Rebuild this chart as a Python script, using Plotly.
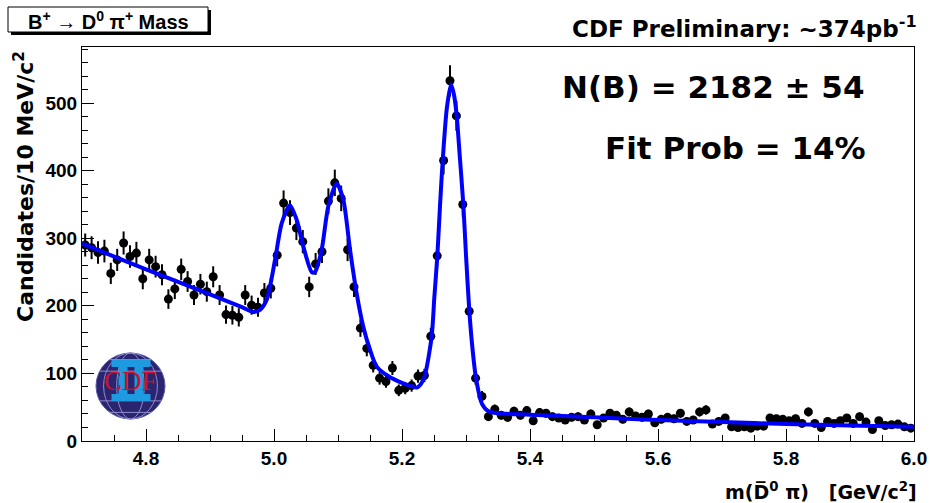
import numpy as np
import plotly.graph_objects as go

# ---------------- data ----------------
bin_low_edge = 4.70   # GeV/c^2
bin_width = 0.01      # 10 MeV bins

counts = [
    290, 286, 279, 281, 248, 268, 293, 273, 278, 240,   # 4.705-4.795
    268, 258, 246, 210, 225, 254, 236, 216, 232, 221,   # 4.805-4.895
    243, 216, 187, 186, 183, 216, 201, 198, 219, 226,   # 4.905-4.995
    275, 352, 338, 315, 295, 228, 262, 280, 355, 382,   # 5.005-5.095
    359, 283, 228, 167, 137, 112, 93, 88, 108, 75,      # 5.105-5.195
    78, 82, 96, 97, 155, 274, 415, 533, 481, 350,       # 5.205-5.295
    192, 93, 66, 36, 47, 38, 35, 44, 38, 45,            # 5.305-5.395
    30, 42, 41, 36, 34, 31, 35, 36, 31, 40,             # 5.405-5.495
    24, 34, 41, 38, 32, 43, 37, 35, 40, 27,             # 5.505-5.595
    32, 35, 33, 41, 29, 31, 43, 46, 25, 29,             # 5.605-5.695
    34, 21, 20, 21, 19, 22, 22, 34, 33, 32,             # 5.705-5.795
    30, 33, 26, 43, 26, 20, 29, 26, 30, 34,             # 5.805-5.895
    26, 36, 28, 17, 30, 23, 24, 25, 21, 19,             # 5.905-5.995
]

fit_mass = [4.70, 4.80, 4.90, 4.95, 4.967, 4.978, 4.9886, 5.0016, 5.012, 5.025,
            5.0355, 5.0458, 5.0589, 5.064, 5.0745, 5.0848, 5.098, 5.1083, 5.1188,
            5.1292, 5.1395, 5.15, 5.1605, 5.18, 5.20, 5.215, 5.223, 5.23, 5.236,
            5.2464, 5.2505, 5.2552, 5.2595, 5.2636, 5.270, 5.2766, 5.2813, 5.2855,
            5.290, 5.2958, 5.300, 5.3052, 5.310, 5.3156, 5.325, 5.335, 5.35, 5.40,
            5.50, 5.60, 5.70, 5.80, 5.90, 6.00]
fit_value = [292, 254, 217, 198, 191, 194, 209, 268, 322, 349,
             327, 288, 250, 250, 283, 347, 381, 357, 283,
             218, 169, 135, 110, 95, 86, 81, 79, 85, 98,
             155, 212, 274, 350, 415, 492, 528, 512, 481,
             425, 350, 275, 192, 138, 93, 55, 44, 41, 39,
             35, 31, 28, 25, 23, 21]

x_ticks = [4.8, 5.0, 5.2, 5.4, 5.6, 5.8, 6.0]
x_tick_labels = ["4.8", "5.0", "5.2", "5.4", "5.6", "5.8", "6.0"]
y_ticks = [0, 100, 200, 300, 400, 500]
y_tick_labels = ["0", "100", "200", "300", "400", "500"]

x_range = [4.7, 6.0]
y_range = [0, 583]

# ---------------- derived ----------------
centers = bin_low_edge + bin_width * (np.arange(len(counts)) + 0.5)
errors = np.sqrt(np.array(counts, dtype=float))

W, H = 930, 503
ML, MR, MT, MB = 82, 16, 47, 62
PW = W - ML - MR
PH = H - MT - MB


def fx(px):
    return (px - ML) / PW


def fy(py):
    return (H - MB - py) / PH


BOLD_SANS = "Liberation Sans"
WIDE_SANS = "DejaVu Sans"

fig = go.Figure()

fig.add_trace(go.Scatter(
    x=centers, y=counts, mode="markers",
    marker=dict(color="black", size=9, line=dict(width=0)),
    error_y=dict(type="data", array=errors, visible=True, thickness=2,
                 width=0, color="black"),
    showlegend=False, hoverinfo="skip",
))

fig.add_trace(go.Scatter(
    x=fit_mass, y=fit_value, mode="lines",
    line=dict(color="#0000ff", width=4, shape="spline", smoothing=0.7),
    showlegend=False, hoverinfo="skip",
))

axis_common = dict(
    showline=True, linecolor="black", linewidth=1, mirror=True,
    ticks="inside", tickcolor="black", tickwidth=1,
    showgrid=False, zeroline=False, automargin=False,
    tickfont=dict(family=BOLD_SANS, size=19, color="black", weight="bold"),
)

fig.update_xaxes(range=x_range, tickvals=x_ticks, ticktext=x_tick_labels,
                 ticklen=12,
                 minor=dict(ticks="inside", ticklen=6, dtick=0.05,
                            tickcolor="black", tickwidth=1, showgrid=False),
                 **axis_common)
fig.update_yaxes(range=y_range, tickvals=y_ticks, ticktext=y_tick_labels,
                 ticklen=12,
                 minor=dict(ticks="inside", ticklen=6, dtick=20,
                            tickcolor="black", tickwidth=1, showgrid=False),
                 **axis_common)

shapes = []
annotations = []

# --- title box with shadow ---
shapes.append(dict(type="rect", xref="paper", yref="paper",
                   x0=fx(11), x1=fx(211), y0=fy(35), y1=fy(10),
                   fillcolor="black", line=dict(width=0), layer="above"))
shapes.append(dict(type="rect", xref="paper", yref="paper",
                   x0=fx(8), x1=fx(208), y0=fy(32), y1=fy(7),
                   fillcolor="white", line=dict(color="black", width=1),
                   layer="above"))
annotations.append(dict(
    xref="paper", yref="paper", x=fx(108), y=fy(20),
    xanchor="center", yanchor="middle", showarrow=False,
    text="B<sup>+</sup> \u2192 D<sup>0</sup> \u03c0<sup>+</sup> Mass",
    font=dict(family=BOLD_SANS, size=20, color="black", weight="bold"),
))

# --- top right label ---
annotations.append(dict(
    xref="paper", yref="paper", x=fx(919), y=fy(27),
    xanchor="right", yanchor="middle", showarrow=False,
    text="CDF Preliminary: ~374pb<sup>-1</sup>",
    font=dict(family=WIDE_SANS, size=23, color="black", weight="bold"),
))

# --- fit results ---
annotations.append(dict(
    xref="paper", yref="paper", x=fx(866), y=fy(87),
    xanchor="right", yanchor="middle", showarrow=False,
    text="N(B) = 2182 \u00b1 54",
    font=dict(family=WIDE_SANS, size=31, color="black", weight="bold"),
))
annotations.append(dict(
    xref="paper", yref="paper", x=fx(868), y=fy(148),
    xanchor="right", yanchor="middle", showarrow=False,
    text="Fit Prob = 14%",
    font=dict(family=WIDE_SANS, size=31, color="black", weight="bold"),
))

# --- axis titles ---
annotations.append(dict(
    xref="paper", yref="paper", x=fx(24), y=fy(187),
    xanchor="center", yanchor="middle", showarrow=False, textangle=-90,
    text="Candidates/10 MeV/c<sup>2</sup>",
    font=dict(family=WIDE_SANS, size=22, color="black", weight="bold"),
))
annotations.append(dict(
    xref="paper", yref="paper", x=fx(919), y=fy(491),
    xanchor="right", yanchor="middle", showarrow=False,
    text="m(D\u0305<sup>0</sup> \u03c0)   [GeV/c<sup>2</sup>]",
    font=dict(family=WIDE_SANS, size=19, color="black", weight="bold"),
))

# --- CDF II logo ---
cx, cy, rx, ry = 130.5, 386.0, 34.5, 33.0
shapes.append(dict(type="circle", xref="paper", yref="paper",
                   x0=fx(cx - rx), x1=fx(cx + rx), y0=fy(cy + ry), y1=fy(cy - ry),
                   fillcolor="#2b2570", line=dict(color="#5a58a8", width=1)))
grid_col = "#8e8cd0"
for k in (0.4, 0.78):
    shapes.append(dict(type="circle", xref="paper", yref="paper",
                       x0=fx(cx - rx * k), x1=fx(cx + rx * k),
                       y0=fy(cy + ry), y1=fy(cy - ry),
                       line=dict(color=grid_col, width=1)))
for off, half in ((0.45, 0.89), (-0.45, 0.89), (0.8, 0.6), (-0.8, 0.6)):
    shapes.append(dict(type="line", xref="paper", yref="paper",
                       x0=fx(cx - rx * half), x1=fx(cx + rx * half),
                       y0=fy(cy + ry * off), y1=fy(cy + ry * off),
                       line=dict(color=grid_col, width=1)))
ii_col = "#1e9be0"
for (a, b, c, d) in ((cx - 19, cx + 20, cy - 26, cy - 19),
                     (cx - 19, cx + 20, cy + 8, cy + 15),
                     (cx - 12, cx - 3, cy - 19, cy + 8),
                     (cx + 4, cx + 13, cy - 19, cy + 8)):
    shapes.append(dict(type="rect", xref="paper", yref="paper",
                       x0=fx(a), x1=fx(b), y0=fy(d), y1=fy(c),
                       fillcolor=ii_col, line=dict(width=0)))
annotations.append(dict(
    xref="paper", yref="paper", x=fx(cx), y=fy(cy - 5),
    xanchor="center", yanchor="middle", showarrow=False,
    text="CDF", font=dict(family="Liberation Serif", size=27, color="#d0102c"),
))

fig.update_layout(
    width=W, height=H,
    margin=dict(l=ML, r=MR, t=MT, b=MB, pad=0, autoexpand=False),
    paper_bgcolor="white", plot_bgcolor="white",
    shapes=shapes, annotations=annotations,
    showlegend=False,
)

fig.write_html("out.html")
